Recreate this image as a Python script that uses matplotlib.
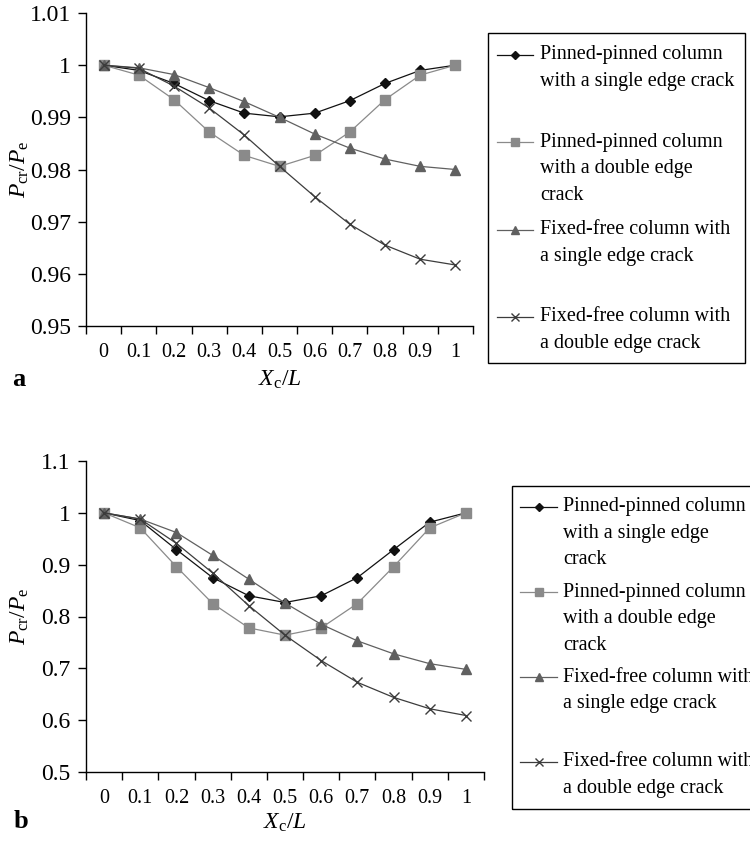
import matplotlib
matplotlib.use('Agg')
import matplotlib.pyplot as plt
from matplotlib.patches import Rectangle
from matplotlib.lines import Line2D

plt.rcParams['font.family'] = ['Liberation Serif', 'DejaVu Serif']
plt.rcParams['mathtext.fontset'] = 'custom'
plt.rcParams['mathtext.rm'] = 'Liberation Serif'
plt.rcParams['mathtext.it'] = 'Liberation Serif:italic'

# data
x_labels = ['0', '0.1', '0.2', '0.3', '0.4', '0.5', '0.6', '0.7', '0.8', '0.9', '1']

pp_single_a = [1.0, 0.999, 0.9965, 0.9932, 0.9908, 0.9901, 0.9908, 0.9932, 0.9965, 0.999, 1.0]
pp_double_a = [1.0, 0.9981, 0.9934, 0.9872, 0.9827, 0.9806, 0.9827, 0.9872, 0.9934, 0.9981, 1.0]
ff_single_a = [1.0, 0.9995, 0.9982, 0.9957, 0.993, 0.990, 0.9868, 0.9841, 0.982, 0.9806, 0.98]
ff_double_a = [1.0, 0.9994, 0.996, 0.9918, 0.9866, 0.9806, 0.9748, 0.9695, 0.9655, 0.9628, 0.9617]

pp_single_b = [1.0, 0.985, 0.929, 0.875, 0.840, 0.827, 0.840, 0.875, 0.929, 0.982, 1.0]
pp_double_b = [1.0, 0.971, 0.896, 0.825, 0.778, 0.764, 0.778, 0.825, 0.896, 0.971, 1.0]
ff_single_b = [1.0, 0.988, 0.962, 0.918, 0.872, 0.826, 0.785, 0.753, 0.728, 0.709, 0.698]
ff_double_b = [1.0, 0.988, 0.941, 0.884, 0.821, 0.764, 0.715, 0.673, 0.644, 0.622, 0.609]

yticks_a = [0.95, 0.96, 0.97, 0.98, 0.99, 1.0, 1.01]
yticklabels_a = ['0.95', '0.96', '0.97', '0.98', '0.99', '1', '1.01']
yticks_b = [0.5, 0.6, 0.7, 0.8, 0.9, 1.0, 1.1]
yticklabels_b = ['0.5', '0.6', '0.7', '0.8', '0.9', '1', '1.1']

labels_a = [['Pinned-pinned column', 'with a single edge crack'],
            ['Pinned-pinned column', 'with a double edge', 'crack'],
            ['Fixed-free column with', 'a single edge crack'],
            ['Fixed-free column with', 'a double edge crack']]
labels_b = [['Pinned-pinned column', 'with a single edge', 'crack'],
            ['Pinned-pinned column', 'with a double edge', 'crack'],
            ['Fixed-free column with', 'a single edge crack'],
            ['Fixed-free column with', 'a double edge crack']]

# styles
styles = [dict(color='#111111', marker='D', markersize=5.5),
          dict(color='#8a8a8a', marker='s', markersize=6.5),
          dict(color='#606060', marker='^', markersize=7.5),
          dict(color='#3c3c3c', marker='x', markersize=7, markeredgewidth=1.0)]

W, H = 750, 842
fig = plt.figure(figsize=(W / 100, H / 100), dpi=100)


def fx(px):
    return px / W


def fy(py):
    return 1 - py / H


def setup_axes(ax, series, yticks, yticklabels):
    xs = list(range(len(x_labels)))
    for vals, st in zip(series, styles):
        ax.plot(xs, vals, linewidth=0.9, clip_on=False, **st)
    ax.set_xlim(-0.5, len(x_labels) - 0.5)
    ax.set_ylim(yticks[0], yticks[-1])
    ax.set_yticks(yticks)
    ax.set_yticklabels(yticklabels, fontsize=17)
    ax.set_xticks([i - 0.5 for i in range(len(x_labels) + 1)])
    ax.set_xticklabels([])
    ax.set_xticks(xs, minor=True)
    ax.set_xticklabels(x_labels, minor=True, fontsize=14.5)
    ax.tick_params(axis='x', which='major', direction='out', length=6, width=1)
    ax.tick_params(axis='x', which='minor', length=0, pad=12)
    ax.tick_params(axis='y', direction='out', length=6, width=1, pad=5)
    for s in ['top', 'right']:
        ax.spines[s].set_visible(False)
    for s in ['left', 'bottom']:
        ax.spines[s].set_linewidth(1.0)
    ax.set_xlabel(r'$X_{\rm c}/L$', fontsize=17, va='center')
    ax.set_ylabel(r'$P_{\rm cr}/P_{\rm e}$', fontsize=17, va='center')


def draw_legend(box, hx, tx, y0, dy, line_h, labels):
    x0, y_top, x1, y_bot = box
    fig.add_artist(Rectangle((fx(x0), fy(y_bot)), fx(x1) - fx(x0), fy(y_top) - fy(y_bot),
                             transform=fig.transFigure, fill=False, edgecolor='black', linewidth=1.0))
    for i, (lines, st) in enumerate(zip(labels, styles)):
        y = y0 + i * dy
        fig.add_artist(Line2D([fx(hx[0]), fx(hx[1])], [fy(y), fy(y)], color=st['color'], linewidth=0.9,
                              transform=fig.transFigure))
        mst = dict(st)
        mst['markersize'] = st['markersize'] * 0.8
        fig.add_artist(Line2D([fx((hx[0] + hx[1]) / 2)], [fy(y)], linestyle='none',
                              transform=fig.transFigure, **mst))
        for k, txt in enumerate(lines):
            fig.text(fx(tx), fy(y + k * line_h), txt, fontsize=14.5, va='center', ha='left')


# panel a
ax1 = fig.add_axes([fx(86), fy(326), fx(473) - fx(86), fy(13) - fy(326)])
setup_axes(ax1, [pp_single_a, pp_double_a, ff_single_a, ff_double_a], yticks_a, yticklabels_a)
ax1.xaxis.set_label_coords(0.5, -0.172)
ax1.yaxis.set_label_coords(-0.172, 0.5)
fig.text(fx(19), fy(380), 'a', fontsize=19, fontweight='bold', va='center', ha='center')
draw_legend((488, 33, 745, 363), (497, 533), 540, 55, 87.3, 26.5, labels_a)

# panel b
ax2 = fig.add_axes([fx(86), fy(772), fx(484) - fx(86), fy(461) - fy(772)])
setup_axes(ax2, [pp_single_b, pp_double_b, ff_single_b, ff_double_b], yticks_b, yticklabels_b)
ax2.xaxis.set_label_coords(0.5, -0.164)
ax2.yaxis.set_label_coords(-0.166, 0.5)
fig.text(fx(21), fy(821), 'b', fontsize=19, fontweight='bold', va='center', ha='center')
draw_legend((512, 486, 790, 809), (520, 557), 563, 507, 85, 26.5, labels_b)

fig.savefig('out.png', dpi=100)
